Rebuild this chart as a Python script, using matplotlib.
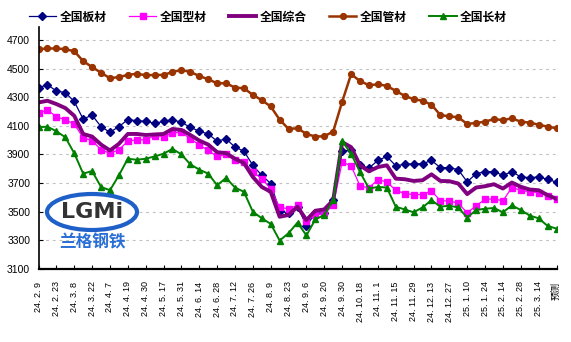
import numpy as np
from matplotlib import pyplot as plt
from matplotlib.patches import Ellipse

plt.rcParams['font.family'] = ['Liberation Sans', 'Noto Sans CJK SC', 'DejaVu Sans']

# tick labels (every second week) and the weekly series
tick_labels = ['24. 2. 9', '24. 2. 23', '24. 3. 8', '24. 3. 22', '24. 4. 7', '24. 4. 19',
               '24. 4. 30', '24. 5. 17', '24. 5. 31', '24. 6. 14', '24. 6. 28', '24. 7. 12',
               '24. 7. 26', '24. 8. 9', '24. 8. 23', '24. 9. 6', '24. 9. 20', '24. 9. 30',
               '24. 10. 18', '24. 11. 1', '24. 11. 15', '24. 11. 29', '24. 12. 13',
               '24. 12. 27', '25. 1. 10', '25. 1. 24', '25. 2. 14', '25. 2. 28',
               '25. 3. 14', '预测']

ban_cai = [4367, 4386, 4344, 4332, 4270, 4147, 4175, 4094, 4055, 4094, 4143, 4136, 4131, 4117, 4131,
           4143, 4124, 4090, 4062, 4043, 3993, 4009, 3951, 3923, 3824, 3754, 3697, 3507, 3489, 3535,
           3403, 3489, 3489, 3581, 3923, 3932, 3824, 3805, 3858, 3886, 3821, 3831, 3835, 3835, 3858,
           3808, 3808, 3794, 3708, 3766, 3780, 3780, 3754, 3780, 3743, 3738, 3743, 3727, 3706]
xing_cai = [4187, 4210, 4164, 4141, 4113, 4016, 3997, 3932, 3909, 3932, 3993, 4002, 4002, 4032, 4025,
            4050, 4055, 4009, 3967, 3928, 3886, 3900, 3858, 3849, 3777, 3731, 3660, 3530, 3521, 3544,
            3438, 3478, 3489, 3544, 3847, 3821, 3680, 3667, 3724, 3708, 3650, 3627, 3620, 3620, 3646,
            3576, 3576, 3558, 3493, 3542, 3586, 3590, 3576, 3669, 3650, 3639, 3634, 3611, 3590]
zong_he = [4263, 4275, 4252, 4224, 4170, 4043, 4025, 3969, 3928, 3974, 4043, 4043, 4036, 4039, 4043,
           4078, 4071, 4036, 3997, 3969, 3916, 3909, 3870, 3840, 3743, 3673, 3639, 3465, 3477, 3535,
           3442, 3507, 3516, 3581, 3986, 3951, 3824, 3782, 3812, 3824, 3731, 3727, 3715, 3720, 3761,
           3715, 3713, 3697, 3623, 3669, 3678, 3692, 3662, 3704, 3674, 3655, 3650, 3616, 3590]
guan_cai = [4635, 4640, 4640, 4635, 4621, 4552, 4510, 4471, 4432, 4441, 4455, 4464, 4453, 4455, 4455,
            4476, 4490, 4476, 4448, 4425, 4397, 4397, 4367, 4362, 4316, 4279, 4235, 4143, 4078, 4083,
            4043, 4025, 4027, 4060, 4268, 4460, 4413, 4383, 4390, 4379, 4344, 4309, 4286, 4275, 4247,
            4175, 4166, 4159, 4113, 4120, 4129, 4147, 4140, 4152, 4129, 4122, 4108, 4094, 4083]
chang_cai = [4090, 4094, 4062, 4020, 3909, 3766, 3784, 3673, 3650, 3754, 3870, 3863, 3870, 3886, 3905,
             3939, 3900, 3831, 3794, 3766, 3685, 3736, 3669, 3639, 3500, 3454, 3415, 3299, 3350, 3424,
             3334, 3447, 3477, 3581, 3993, 3905, 3777, 3662, 3673, 3669, 3535, 3516, 3496, 3530, 3581,
             3535, 3542, 3530, 3459, 3512, 3521, 3526, 3496, 3544, 3512, 3473, 3454, 3401, 3382]

x = np.arange(len(ban_cai))

fig = plt.figure(figsize=(5.71, 3.42), dpi=100)
ax = fig.add_axes([38.5 / 571, 1 - 269 / 342, 518 / 571, 242 / 342])

ax.plot(x, ban_cai, color='#000080', lw=0.9, marker='D', ms=4.2, label='全国板材')
ax.plot(x, xing_cai, color='#FF00FF', lw=0.9, marker='s', ms=4.7, label='全国型材')
ax.plot(x, zong_he, color='#800080', lw=2.8, label='全国综合')
ax.plot(x, guan_cai, color='#993300', lw=1.8, marker='o', ms=4.2, label='全国管材')
ax.plot(x, chang_cai, color='#008000', lw=1.4, marker='^', ms=4.7, label='全国长材')

ax.set_xlim(0, len(x) - 1)
ax.set_ylim(3100, 4790)
ax.set_yticks(np.arange(3100, 4701, 200))
ax.set_xticks(x[::2])
ax.set_xticklabels(tick_labels, rotation=90, va='top', ha='center', fontsize=6.5)
ax.tick_params(axis='y', direction='in', length=3, labelsize=7.5, pad=6)
ax.tick_params(axis='x', direction='in', length=3, pad=9)
ax.yaxis.grid(True, color='#C0C0C0', linestyle=(0, (2.5, 3.5)), lw=0.8)
ax.set_axisbelow(True)

for s in ['top', 'right']:
    ax.spines[s].set_visible(False)
ax.spines['left'].set_linewidth(1.2)
ax.spines['bottom'].set_linewidth(1.6)

# legend across the top
fig.legend(loc='center', bbox_to_anchor=(268 / 571, 1 - 17 / 342), ncol=5, frameon=False,
           handlelength=2.3, columnspacing=1.9, handletextpad=0.3,
           prop={'family': ['Noto Sans CJK SC'], 'weight': 'bold', 'size': 8.5})

# watermark logo
fig.add_artist(Ellipse((92 / 571, 1 - 212 / 342), 90 / 571, 36 / 342, transform=fig.transFigure,
                       facecolor='white', edgecolor='#1F5FC8', lw=3))
fig.text(92 / 571, 1 - 212 / 342, 'LGMi', ha='center', va='center', fontsize=16,
         color='#333333', weight='bold', family='DejaVu Sans')
fig.text(92 / 571, 1 - 242 / 342, '兰格钢铁', ha='center', va='center', fontsize=12,
         color='#2A6FD6', weight='bold', family=['Noto Sans CJK SC'])

plt.savefig('out.png', dpi=100)
